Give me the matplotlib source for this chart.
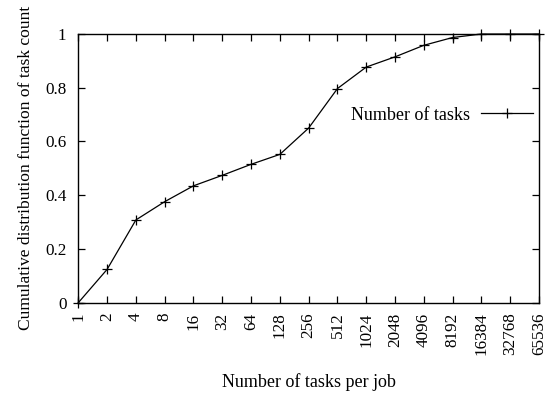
import matplotlib
matplotlib.use("Agg")
import matplotlib.pyplot as plt

tasks_per_job = [1, 2, 4, 8, 16, 32, 64, 128, 256, 512, 1024, 2048, 4096, 8192, 16384, 32768, 65536]
tick_labels = [str(v) for v in tasks_per_job]
cdf = [0.0, 0.124, 0.308, 0.376, 0.435, 0.474, 0.515, 0.552, 0.650, 0.797, 0.877, 0.915, 0.958, 0.987, 1.0, 1.0, 1.0]
y_ticks = [0, 0.2, 0.4, 0.6, 0.8, 1]
y_tick_labels = ["0", "0.2", "0.4", "0.6", "0.8", "1"]

plt.rcParams['font.family'] = ['Liberation Serif', 'DejaVu Serif']
fs_tick = 12.3
fs_lab = 13

fig = plt.figure(figsize=(5.53, 3.96), dpi=100)
ax = fig.add_axes([0.1416, 0.2356, 0.9747 - 0.1416, 0.9141 - 0.2356])

ax.plot(tasks_per_job, cdf, color='black', lw=0.9, marker='+', markersize=6.5,
        markeredgewidth=0.9, label='Number of tasks', clip_on=False, zorder=3)

ax.set_xscale('log', base=2)
ax.set_xlim(1, 65536)
ax.set_ylim(0, 1)
ax.set_xticks(tasks_per_job)
ax.set_xticklabels(tick_labels, rotation=90, fontsize=fs_tick)
ax.minorticks_off()
ax.set_yticks(y_ticks)
ax.set_yticklabels(y_tick_labels, fontsize=fs_tick)
ax.tick_params(direction='in', length=5, width=0.9, top=True, right=True, color='black')
ax.tick_params(axis='x', pad=7)
ax.tick_params(axis='y', pad=8.5)
for s in ax.spines.values():
    s.set_linewidth(1.0)
    s.set_color('black')

ax.set_xlabel('Number of tasks per job', fontsize=fs_lab, labelpad=13)
ax.set_ylabel('Cumulative distribution function of task count', fontsize=12.6,
              labelpad=8)

ax.legend(loc='center right', bbox_to_anchor=(0.987, 0.698), frameon=False,
          markerfirst=False, numpoints=1, handlelength=2.9, handletextpad=0.6,
          borderpad=0, borderaxespad=0, fontsize=fs_lab)

fig.savefig('out.png', dpi=100)
